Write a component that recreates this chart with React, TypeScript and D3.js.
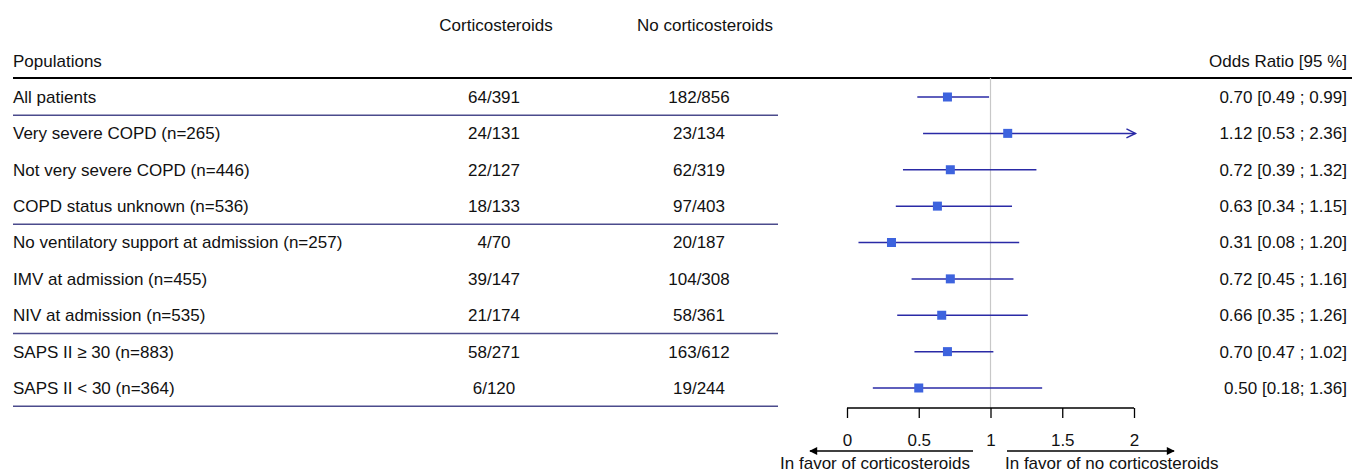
import React, { useEffect, useRef } from "react";
import * as d3 from "d3";

const populations = [
  "All patients",
  "Very severe COPD (n=265)",
  "Not very severe COPD (n=446)",
  "COPD status unknown (n=536)",
  "No ventilatory support at admission (n=257)",
  "IMV at admission (n=455)",
  "NIV at admission (n=535)",
  "SAPS II \u2265 30 (n=883)",
  "SAPS II < 30 (n=364)",
];
const corticoEvents = ["64/391", "24/131", "22/127", "18/133", "4/70", "39/147", "21/174", "58/271", "6/120"];
const noCorticoEvents = ["182/856", "23/134", "62/319", "97/403", "20/187", "104/308", "58/361", "163/612", "19/244"];
const oddsRatio = [0.7, 1.12, 0.72, 0.63, 0.31, 0.72, 0.66, 0.7, 0.5];
const ciLower = [0.49, 0.53, 0.39, 0.34, 0.08, 0.45, 0.35, 0.47, 0.18];
const ciUpper = [0.99, 2.36, 1.32, 1.15, 1.2, 1.16, 1.26, 1.02, 1.36];
const orLabels = [
  "0.70 [0.49 ; 0.99]",
  "1.12 [0.53 ; 2.36]",
  "0.72 [0.39 ; 1.32]",
  "0.63 [0.34 ; 1.15]",
  "0.31 [0.08 ; 1.20]",
  "0.72 [0.45 ; 1.16]",
  "0.66 [0.35 ; 1.26]",
  "0.70 [0.47 ; 1.02]",
  "0.50 [0.18; 1.36]",
];
const separatorsAfter = [0, 3, 6, 8];
const axisTicks = [0, 0.5, 1, 1.5, 2];
const axisMax = 2.01; // arrows drawn where CI exceeds plot range

export default function App() {
  const ref = useRef<SVGSVGElement>(null);

  useEffect(() => {
    const width = 1364;
    const height = 475;
    const font = "'Liberation Sans', Arial, Helvetica, sans-serif";
    const fs = 17;

    const svg = d3.select(ref.current);
    svg.selectAll("*").remove();
    svg.attr("width", width).attr("height", height);

    const defs = svg.append("defs");
    defs
      .append("marker")
      .attr("id", "solidArrow")
      .attr("viewBox", "0 0 10 10")
      .attr("refX", 9)
      .attr("refY", 5)
      .attr("markerWidth", 10)
      .attr("markerHeight", 8)
      .attr("markerUnits", "userSpaceOnUse")
      .attr("orient", "auto")
      .append("path")
      .attr("d", "M0,0 L10,5 L0,10 Z")
      .attr("fill", "#000");

    const x = d3.scaleLinear().domain([0, 2]).range([847, 1134]);
    const y = d3
      .scaleLinear()
      .domain([0, populations.length - 1])
      .range([97, 388]);
    const step = y(1) - y(0);

    const text = (tx: number, ty: number, s: string, anchor = "start") =>
      svg
        .append("text")
        .attr("x", tx)
        .attr("y", ty)
        .attr("dy", "0.35em")
        .attr("text-anchor", anchor)
        .style("font-family", font)
        .style("font-size", `${fs}px`)
        .attr("fill", "#111")
        .text(s);

    // headers
    text(496, 25, "Corticosteroids", "middle");
    text(705, 25, "No corticosteroids", "middle");
    text(13, 61, "Populations");
    text(1347, 61, "Odds Ratio [95 %]", "end");

    svg
      .append("line")
      .attr("x1", 13)
      .attr("x2", 1352)
      .attr("y1", 78)
      .attr("y2", 78)
      .attr("stroke", "#000")
      .attr("stroke-width", 2);

    // reference line at OR = 1
    svg
      .append("line")
      .attr("x1", x(1))
      .attr("x2", x(1))
      .attr("y1", 78)
      .attr("y2", 408)
      .attr("stroke", "#c8c8c8")
      .attr("stroke-width", 1.2);

    // separators
    svg
      .selectAll(".sep")
      .data(separatorsAfter)
      .enter()
      .append("line")
      .attr("class", "sep")
      .attr("x1", 13)
      .attr("x2", 778)
      .attr("y1", (d) => y(d) + step / 2)
      .attr("y2", (d) => y(d) + step / 2)
      .attr("stroke", "#4b4b8c")
      .attr("stroke-width", 1.6);

    populations.forEach((p, i) => {
      text(13, y(i), p);
      text(494, y(i), corticoEvents[i], "middle");
      text(699, y(i), noCorticoEvents[i], "middle");
      text(1347, y(i), orLabels[i], "end");

      const hi = Math.min(ciUpper[i], axisMax);
      svg
        .append("line")
        .attr("x1", x(ciLower[i]))
        .attr("x2", x(hi))
        .attr("y1", y(i))
        .attr("y2", y(i))
        .attr("stroke", "#2a2aa6")
        .attr("stroke-width", 1.5);
      if (ciUpper[i] > axisMax) {
        svg
          .append("path")
          .attr(
            "d",
            `M${x(hi) - 9},${y(i) - 4.5} L${x(hi)},${y(i)} L${x(hi) - 9},${y(i) + 4.5}`
          )
          .attr("fill", "none")
          .attr("stroke", "#2a2aa6")
          .attr("stroke-width", 1.5);
      }
      svg
        .append("rect")
        .attr("x", x(oddsRatio[i]) - 4.5)
        .attr("y", y(i) - 4.5)
        .attr("width", 9)
        .attr("height", 9)
        .attr("fill", "#3d63de");
    });

    // axis
    const axisG = svg
      .append("g")
      .attr("transform", "translate(0,408)")
      .call(
        d3
          .axisBottom(x)
          .tickValues(axisTicks)
          .tickSize(10)
          .tickPadding(16)
          .tickFormat((d) => String(d))
      );
    axisG.select(".domain").attr("stroke", "#000").attr("stroke-width", 1.3).attr("d", `M${x(0)},0H${x(2)}`);
    axisG.selectAll(".tick line").attr("stroke", "#000").attr("stroke-width", 1.3);
    axisG
      .selectAll(".tick text")
      .style("font-family", font)
      .style("font-size", `${fs}px`)
      .attr("fill", "#111");

    // direction arrows
    svg
      .append("line")
      .attr("x1", 973)
      .attr("x2", 810)
      .attr("y1", 451)
      .attr("y2", 451)
      .attr("stroke", "#000")
      .attr("stroke-width", 1.5)
      .attr("marker-end", "url(#solidArrow)");
    svg
      .append("line")
      .attr("x1", 1007)
      .attr("x2", 1174)
      .attr("y1", 451)
      .attr("y2", 451)
      .attr("stroke", "#000")
      .attr("stroke-width", 1.5)
      .attr("marker-end", "url(#solidArrow)");
    text(970, 463, "In favor of corticosteroids", "end");
    text(1005, 463, "In favor of no corticosteroids", "start");
  }, []);

  return (
    <svg
      ref={ref}
      style={{ position: "absolute", left: 0, top: 0, display: "block", background: "#fff" }}
    ></svg>
  );
}
